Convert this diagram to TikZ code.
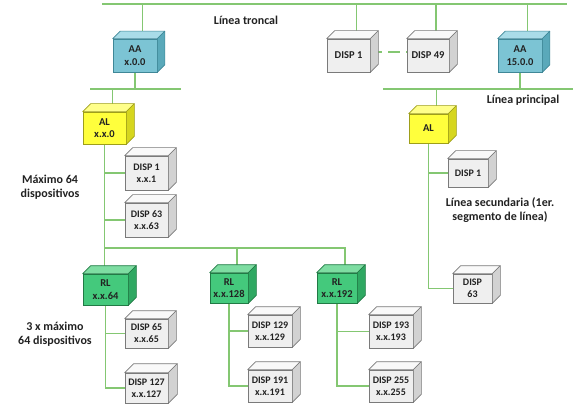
\documentclass[tikz,border=0pt]{standalone}
\usepackage{fontspec}
\setmainfont{Carlito}
\usetikzlibrary{calc,backgrounds}
\definecolor{lnk}{HTML}{84C772}
\definecolor{txt}{HTML}{222222}
\definecolor{aafront}{HTML}{7CC4D4}\definecolor{aatop}{HTML}{A9DCE8}\definecolor{aaside}{HTML}{5AA9BA}\definecolor{aaedge}{HTML}{3F8797}
\definecolor{alfront}{HTML}{FFFF3C}\definecolor{altop}{HTML}{FFFF8A}\definecolor{alside}{HTML}{D6D61E}\definecolor{aledge}{HTML}{9E9E1A}
\definecolor{rlfront}{HTML}{44C97C}\definecolor{rltop}{HTML}{7EDDA2}\definecolor{rlside}{HTML}{2FA862}\definecolor{rledge}{HTML}{217A45}
\definecolor{dsfront}{HTML}{EFEFEF}\definecolor{dstop}{HTML}{F9F9F9}\definecolor{dsside}{HTML}{D2D2D2}\definecolor{dsedge}{HTML}{7A7A7A}
\newcommand\cubefaces[3][8]{%
  \filldraw[fill=#3top,draw=#3edge,line width=0.6pt,line join=round]
    (#2.north west) -- ++(#1,-#1) -- ($(#2.north east)+(#1,-#1)$) -- (#2.north east) -- cycle;
  \filldraw[fill=#3side,draw=#3edge,line width=0.6pt,line join=round]
    (#2.north east) -- ++(#1,-#1) -- ($(#2.south east)+(#1,-#1)$) -- (#2.south east) -- cycle;
  \coordinate (#2-t) at ($(#2.north)+(#1,-#1)$);
}
\begin{document}
\begin{tikzpicture}[x=1pt,y=-1pt,
  link/.style={draw=lnk,line width=1.5pt},
  cube/.style={draw,line width=0.6pt,inner sep=0pt,align=center,text=txt,
    font=\bfseries\fontsize{10.5}{12.5}\selectfont},
  aabox/.style={cube,fill=aafront,draw=aaedge},
  albox/.style={cube,fill=alfront,draw=aledge},
  rlbox/.style={cube,fill=rlfront,draw=rledge},
  dsbox/.style={cube,fill=dsfront,draw=dsedge},
  small/.style={font=\bfseries\fontsize{10}{12}\selectfont},
  lbl/.style={align=center,text=txt,font=\bfseries\fontsize{12}{13.5}\selectfont}]
\useasboundingbox (0,0) rectangle (573,406);
% bus coordinates
\coordinate (trL) at (102,4); \coordinate (trR) at (567,4);
\coordinate (b1L) at (90,89); \coordinate (b1R) at (181,89);
\coordinate (b2) at (0,248);
\coordinate (b3L) at (383,89); \coordinate (b3R) at (573,89);
% nodes
\node[aabox,minimum width=44pt,minimum height=33pt] (aa1) at (135,55.5) {AA\\x.0.0};
\cubefaces[7.5]{aa1}{aa}
\node[dsbox,minimum width=43pt,minimum height=33pt] (dt1) at (348.5,55.5) {DISP 1};
\cubefaces{dt1}{ds}
\node[dsbox,minimum width=42pt,minimum height=33pt] (dt49) at (428,55.5) {DISP 49};
\cubefaces{dt49}{ds}
\node[aabox,minimum width=44pt,minimum height=33pt] (aa2) at (520,55.5) {AA\\15.0.0};
\cubefaces[7.5]{aa2}{aa}
\node[albox,minimum width=43pt,minimum height=32pt] (al1) at (104.5,128) {AL\\x.x.0};
\cubefaces{al1}{al}
\node[albox,minimum width=39pt,minimum height=29pt] (al2) at (428.5,128.5) {AL};
\cubefaces{al2}{al}
\node[dsbox,small,minimum width=43pt,minimum height=34pt] (d1a) at (146.5,173) {DISP 1\\x.x.1};
\cubefaces{d1a}{ds}
\node[dsbox,small,minimum width=43pt,minimum height=34pt] (d63a) at (146.5,220) {DISP 63\\x.x.63};
\cubefaces{d63a}{ds}
\node[dsbox,small,minimum width=40pt,minimum height=28pt] (d1b) at (468,173) {DISP 1};
\cubefaces{d1b}{ds}
\node[dsbox,small,minimum width=39pt,minimum height=29pt] (d63b) at (472.5,288.5) {DISP\\63};
\cubefaces{d63b}{ds}
\node[rlbox,minimum width=45pt,minimum height=31pt] (rl64) at (105.5,289.5) {RL\\x.x.64};
\cubefaces{rl64}{rl}
\node[rlbox,minimum width=38pt,minimum height=30pt] (rl128) at (229,288) {RL\\x.x.128};
\cubefaces{rl128}{rl}
\node[rlbox,minimum width=40pt,minimum height=30pt] (rl192) at (337,288) {RL\\x.x.192};
\cubefaces{rl192}{rl}
\node[dsbox,small,minimum width=43pt,minimum height=29pt] (d65) at (146.5,333.5) {DISP 65\\x.x.65};
\cubefaces{d65}{ds}
\node[dsbox,small,minimum width=43pt,minimum height=30pt] (d127) at (146.5,388) {DISP 127\\x.x.127};
\cubefaces[9]{d127}{ds}
\node[dsbox,small,minimum width=44pt,minimum height=32pt] (d129) at (270,331) {DISP 129\\x.x.129};
\cubefaces{d129}{ds}
\node[dsbox,small,minimum width=44pt,minimum height=32pt] (d191) at (270,386) {DISP 191\\x.x.191};
\cubefaces{d191}{ds}
\node[dsbox,small,minimum width=44pt,minimum height=33pt] (d193) at (391,331.5) {DISP 193\\x.x.193};
\cubefaces{d193}{ds}
\node[dsbox,small,minimum width=44pt,minimum height=32pt] (d255) at (391,386) {DISP 255\\x.x.255};
\cubefaces{d255}{ds}
% labels
\node[lbl] (ltr) at (246,20) {Línea troncal};
\node[lbl] (lpr) at (523,100) {Línea principal};
\node[lbl] (lmax) at (50,187) {Máximo 64\\dispositivos};
\node[lbl] (l3x) at (55,334) {3 x máximo\\64 dispositivos};
\node[lbl] (lsec) at (500,210) {Línea secundaria (1er.\\segmento de línea)};
% connectors
\begin{pgfonlayer}{background}
\fill[white] (0,0) rectangle (573,406);
\draw[link] (trL) -- (trR);
\draw[link] (aa1-t) -- (aa1-t |- trL);
\draw[link] (dt1-t) -- (dt1-t |- trL);
\draw[link] (dt49-t) -- (dt49-t |- trL);
\draw[link] (aa2-t) -- (aa2-t |- trL);
\draw[link,dash pattern=on 12pt off 6pt] ([yshift=3.5pt]dt1.east) -- ([yshift=3.5pt]dt49.west);
\draw[link] (b1L) -- (b1R);
\draw[link] (aa1.south) -- (aa1.south |- b1L);
\draw[link] (al1-t) -- (al1-t |- b1L);
\draw[link] (b3L) -- (b3R);
\draw[link] (aa2.south) -- (aa2.south |- b3L);
\draw[link] (al2-t) -- (al2-t |- b3L);
\draw[link] (al1.south) |- (d1a.west);
\draw[link] (al1.south) |- (d63a.west);
\draw[link] (al1.south) |- (rl192-t |- b2) -- (rl192-t);
\draw[link] (al1.south |- b2) -- (al1.south |- rl64-t);
\draw[link] (rl128-t |- b2) -- (rl128-t);
\draw[link] (rl64.south) |- (d65.west);
\draw[link] (rl64.south) |- (d127.west);
\draw[link] (rl128.south) |- (d129.west);
\draw[link] (rl128.south) |- (d191.west);
\draw[link] (rl192.south) |- (d193.west);
\draw[link] (rl192.south) |- (d255.west);
\draw[link] (al2.south) |- (d1b.west);
\draw[link] (al2.south) |- (d63b.west);
\end{pgfonlayer}
\end{tikzpicture}
\end{document}
